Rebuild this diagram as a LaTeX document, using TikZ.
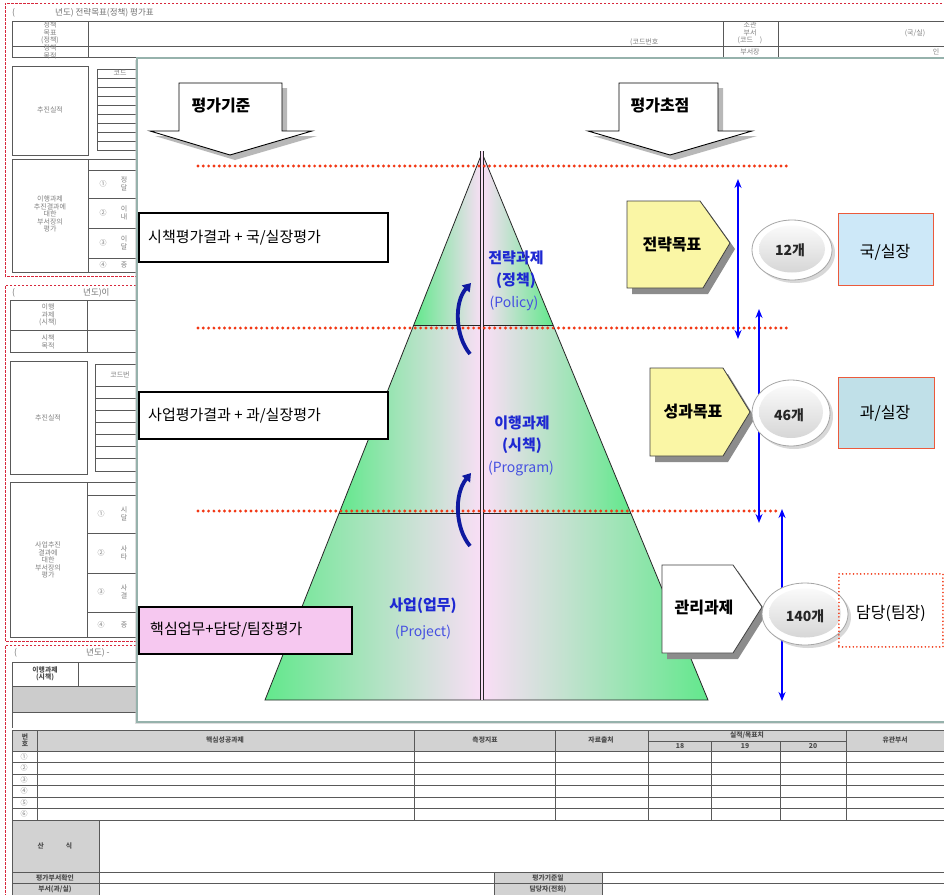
\documentclass[tikz,border=0pt]{standalone}
\usepackage{fontspec}
\setmainfont{Noto Sans CJK KR}
\usetikzlibrary{shapes.geometric,shadows,arrows.meta,calc}
\definecolor{pgreen}{RGB}{98,232,140}
\definecolor{ppink}{RGB}{250,222,246}
\definecolor{pyel}{RGB}{250,246,165}
\definecolor{dotred}{RGB}{242,55,20}
\definecolor{txtblue}{RGB}{30,40,210}
\definecolor{engblue}{RGB}{70,80,225}
\definecolor{lblue}{RGB}{205,232,248}
\definecolor{lteal}{RGB}{192,224,232}
\definecolor{boxred}{RGB}{235,90,60}
\definecolor{lpink}{RGB}{246,200,240}
\definecolor{panelb}{RGB}{150,178,172}
\definecolor{darkblue}{RGB}{15,25,160}
\definecolor{formred}{RGB}{215,40,60}
\begin{document}
\begin{tikzpicture}[x=1pt,y=-1pt,
  fl/.style={draw=black!65, line width=0.5pt},
  ft/.style={font=\fontsize{7}{7.6}\selectfont, text=black!50, align=center, inner sep=0pt},
  ftt/.style={font=\fontsize{8.5}{9}\selectfont, text=black!55, inner sep=0pt, anchor=west},
  fth/.style={font=\fontsize{6.8}{7.2}\selectfont\bfseries, text=black!70, align=center, inner sep=0pt},
  rdash/.style={draw=formred, line width=0.7pt, dash pattern=on 2.5pt off 1.5pt},
  rdot/.style={draw=dotred, line width=3.2pt, line cap=round, dash pattern=on 0pt off 5.3pt},
  lbox/.style={draw=black, line width=1.6pt, fill=white, anchor=north west, inner sep=0pt},
  ltext/.style={font=\fontsize{15}{17}\selectfont, anchor=west, inner sep=0pt},
  ptxt/.style={font=\fontsize{15}{17}\selectfont\bfseries, text=txtblue, inner sep=0pt},
  etxt/.style={font=\fontsize{14}{16}\selectfont\bfseries, text=black!85, inner sep=0pt},
  ktxt/.style={font=\fontsize{16}{18}\selectfont\bfseries, text=black, inner sep=0pt},
  pent/.style={draw=black!75, line width=0.8pt, drop shadow={shadow xshift=5pt, shadow yshift=-6pt, fill=black!45, opacity=1}},
  barrowstyle/.style={draw=blue, line width=2.4pt, {Stealth[length=9pt,width=7pt]}-{Stealth[length=9pt,width=7pt]}},
  curvarrow/.style={draw=darkblue, line width=3.8pt, -{Triangle[length=8pt,width=10pt]}},
  ellout/.style={ellipse, draw=gray!70, line width=0.8pt, fill=white, drop shadow={shadow xshift=3pt, shadow yshift=-3pt, fill=black!30}},
  ellin/.style={ellipse, top color=gray!4, bottom color=gray!32, inner sep=0pt}
]
\useasboundingbox[fill=white] (0,0) rectangle (944,894);

%================ background form 1
\draw[rdash] (946,3) -- (5,3) -- (5,276) -- (140,276);
\node[ftt] (f1a) at (12,13) {(};
\node[ftt] (f1b) at (55,13) {년도) 전략목표(정책) 평가표};
\draw[fl] (12,21) rectangle (946,57);
\draw[fl] (12,46) -- (946,46);
\draw[fl] (88,21) -- (88,57) (723,21) -- (723,57) (778,21) -- (778,57);
\node[ft] (f1c) at (50,33) {정책\\목표\\(정책)};
\node[ft] (f1d) at (50,52) {정책\\목적};
\node[ft,anchor=west] (f1e) at (630,42) {(코드번호};
\node[ft] (f1f) at (750,33) {소관\\부서\\(코드\quad)};
\node[ft] (f1g) at (915,33) {(국/실)};
\node[ft] (f1h) at (750,52) {부서장};
\node[ft] (f1i) at (936,52) {인};
\draw[fl] (12,66) rectangle (88,155);
\node[ft] (f1j) at (50,110) {추진실적};
\draw[fl] (97,69) rectangle (140,150);
\foreach \yy in {78,87,96,105,114,123,132,141} \draw[fl] (97,\yy) -- (140,\yy);
\node[ft] (f1k) at (120,73) {코드};
\draw[fl] (12,159) rectangle (88,272);
\node[ft] (f1l) at (50,214) {이행과제\\추진결과에\\대한\\부서장의\\평가};
\draw[fl] (88,159) rectangle (140,272);
\foreach \yy in {170,198,228,258} \draw[fl] (88,\yy) -- (140,\yy);
\node[ft] (f1m) at (103,184) {①};
\node[ft] (f1n) at (124,184) {정\\달};
\node[ft] (f1o) at (103,213) {②};
\node[ft] (f1p) at (124,213) {이\\내};
\node[ft] (f1q) at (103,243) {③};
\node[ft] (f1r) at (124,243) {이\\달};
\node[ft] (f1s) at (103,265) {④};
\node[ft] (f1t) at (124,265) {종};

%================ background form 2
\draw[rdash] (140,285) -- (5,285) -- (5,641) -- (140,641);
\node[ftt] (f2a) at (12,293) {(};
\node[ftt] (f2b) at (83,293) {년도)이};
\draw[fl] (10,300) rectangle (140,352);
\draw[fl] (10,330) -- (140,330) (87,300) -- (87,352);
\node[ft] (f2c) at (48,315) {이행\\과제\\(시책)};
\node[ft] (f2d) at (48,342) {시책\\목적};
\draw[fl] (10,361) rectangle (87,474);
\node[ft] (f2e) at (48,418) {추진실적};
\draw[fl] (95,364) rectangle (140,471);
\foreach \yy in {386,398,410,422,434,446,458} \draw[fl] (95,\yy) -- (140,\yy);
\node[ft] (f2f) at (120,375) {코드번};
\draw[fl] (10,482) rectangle (87,637);
\node[ft] (f2g) at (48,560) {사업추진\\결과에\\대한\\부서장의\\평가};
\draw[fl] (87,482) rectangle (140,637);
\foreach \yy in {495,533,573,612} \draw[fl] (87,\yy) -- (140,\yy);
\node[ft] (f2h) at (101,514) {①};
\node[ft] (f2i) at (124,514) {시\\달};
\node[ft] (f2j) at (101,553) {②};
\node[ft] (f2k) at (124,553) {사\\타};
\node[ft] (f2l) at (101,592) {③};
\node[ft] (f2m) at (124,592) {사\\결};
\node[ft] (f2n) at (101,625) {④};
\node[ft] (f2o) at (124,625) {종};

%================ background form 3
\draw[rdash] (140,645) -- (5,645) -- (5,896);
\node[ftt] (f3a) at (14,653) {(};
\node[ftt] (f3b) at (86,653) {년도) -};
\draw[fl] (12,662) rectangle (140,686);
\draw[fl] (78,662) -- (78,686);
\node[fth] (f3c) at (45,674) {이행과제\\(시책)};
\draw[fl, fill=gray!40] (12,686) rectangle (140,712);
\draw[fl] (12,712) -- (12,728);
% main table
\draw[fl, fill=gray!35] (12,730) rectangle (946,751);
\draw[fl] (12,751) rectangle (946,820);
\foreach \xx in {37,414,555,648,846} \draw[fl] (\xx,730) -- (\xx,820);
\foreach \xx in {711,780} \draw[fl] (\xx,741) -- (\xx,820);
\draw[fl] (648,741) -- (846,741);
\foreach \yy in {762.5,774,785.5,797,808.5} \draw[fl] (12,\yy) -- (946,\yy);
\node[fth] (h1) at (25,740) {번\\호};
\node[fth] (h2) at (225,740) {핵심성공과제};
\node[fth] (h3) at (485,740) {측정지표};
\node[fth] (h4) at (601,740) {자료출처};
\node[fth] (h5) at (747,735.5) {실적/목표치};
\node[fth] (h6) at (680,746.5) {18};
\node[fth] (h7) at (745,746.5) {19};
\node[fth] (h8) at (813,746.5) {20};
\node[fth] (h9) at (895,740) {유관부서};
\node[ft] (r1) at (24,756.8) {①};
\node[ft] (r2) at (24,768.3) {②};
\node[ft] (r3) at (24,779.8) {③};
\node[ft] (r4) at (24,791.3) {④};
\node[ft] (r5) at (24,802.8) {⑤};
\node[ft] (r6) at (24,814.3) {⑥};
\draw[fl, fill=gray!35] (12,820) rectangle (99,872);
\draw[fl] (99,820) rectangle (946,872);
\node[fth] (sik) at (55,846) {산\hspace{22pt}식};
\draw[fl] (12,872) rectangle (946,896);
\draw[fl] (12,883) -- (946,883);
\draw[fl, fill=gray!35] (12,872) rectangle (99,883);
\draw[fl, fill=gray!35] (12,883) rectangle (99,896);
\draw[fl, fill=gray!35] (494,872) rectangle (602,883);
\draw[fl, fill=gray!35] (494,883) rectangle (602,896);
\node[fth] (b1) at (55,877.5) {평가부서확인};
\node[fth] (b2) at (55,889) {부서(과/실)};
\node[fth] (b3) at (548,877.5) {평가기준일};
\node[fth] (b4) at (548,889) {담당자(전화)};

%================ overlay panel
\draw[draw=panelb, line width=2.5pt, fill=white, drop shadow={shadow xshift=-2pt, shadow yshift=-2pt, fill=black!25}] (137,58) rectangle (946,722);

% block arrows
\draw[fill=white, draw=black, line width=0.9pt, drop shadow={shadow xshift=5pt, shadow yshift=-5pt, fill=black!55}]
  (179,83) -- (282,83) -- (282,131) -- (312,131) -- (230,155) -- (150,131) -- (179,131) -- cycle;
\node[ktxt] (crit) at (221,106) {평가기준};
\draw[fill=white, draw=black, line width=0.9pt, drop shadow={shadow xshift=5pt, shadow yshift=-5pt, fill=black!55}]
  (619,83) -- (718,83) -- (718,131) -- (752,131) -- (670,155) -- (588,131) -- (619,131) -- cycle;
\node[ktxt] (focus) at (660,106) {평가초점};

% pyramid
\coordinate (A) at (482,153);
\coordinate (L1) at (413.8,325);
\coordinate (R1) at (553,325);
\coordinate (L2) at (339.2,513);
\coordinate (R2) at (630.7,513);
\coordinate (BL) at (265,700);
\coordinate (BR) at (708,700);
\begin{scope}
  \clip (A) -- (R1) -- (L1) -- cycle;
  \shade[left color=pgreen, middle color=pgreen!30!white, right color=ppink] (413.8,150) rectangle (482,326);
  \shade[left color=ppink, middle color=pgreen!30!white, right color=pgreen] (482,150) rectangle (553,326);
\end{scope}
\begin{scope}
  \clip (L1) -- (R1) -- (R2) -- (L2) -- cycle;
  \shade[left color=pgreen, middle color=pgreen!30!white, right color=ppink] (339,324) rectangle (482,514);
  \shade[left color=ppink, middle color=pgreen!30!white, right color=pgreen] (482,324) rectangle (631,514);
\end{scope}
\begin{scope}
  \clip (L2) -- (R2) -- (BR) -- (BL) -- cycle;
  \shade[left color=pgreen, middle color=pgreen!30!white, right color=ppink] (265,512) rectangle (482,701);
  \shade[left color=ppink, middle color=pgreen!30!white, right color=pgreen] (482,512) rectangle (708,701);
\end{scope}
\draw[black!85, line width=0.8pt] (A) -- (BR) -- (BL) -- cycle;
\draw[black!85, line width=0.8pt] (L1) -- (R1) (L2) -- (R2);
\draw[black!85, line width=0.8pt, double=ppink, double distance=1.6pt] (482,151) -- (482,700);

% red dotted lines
\draw[rdot] (198,166) -- (788,166);
\draw[rdot] (198,328) -- (788,328);
\draw[rdot] (198,511) -- (778,511);

% curved arrows
\draw[curvarrow] (470,354) .. controls (455,336) and (454,302) .. (471,283);
\draw[curvarrow] (470,546) .. controls (455,528) and (454,494) .. (471,473);

% pyramid texts
\node[ptxt] (t1a) at (516,258) {전략과제};
\node[ptxt] (t1b) at (516,281) {(정책)};
\node[font=\fontsize{14}{16}\selectfont, text=engblue, inner sep=0pt] (t1c) at (514,303) {(Policy)};
\node[ptxt] (t2a) at (522,423) {이행과제};
\node[ptxt] (t2b) at (522,446) {(시책)};
\node[font=\fontsize{14}{16}\selectfont, text=engblue, inner sep=0pt] (t2c) at (521,469) {(Program)};
\node[ptxt] (t3a) at (423,606) {사업(업무)};
\node[font=\fontsize{14}{16}\selectfont, text=engblue, inner sep=0pt] (t3b) at (423,632) {(Project)};

% left label boxes
\node[lbox, minimum width=249pt, minimum height=49pt] (lb1) at (138,212) {};
\node[ltext] (lt1) at (148,238) {시책평가결과 + 국/실장평가};
\node[lbox, minimum width=249pt, minimum height=47pt] (lb2) at (138,391) {};
\node[ltext] (lt2) at (148,416) {사업평가결과 + 과/실장평가};
\node[lbox, fill=lpink, minimum width=213pt, minimum height=47pt] (lb3) at (138,606) {};
\node[ltext] (lt3) at (150,630) {핵심업무+담당/팀장평가};

% blue range arrows
\draw[barrowstyle] (738,179) -- (738,339);
\draw[barrowstyle] (759,309) -- (759,523);
\draw[barrowstyle] (782,509) -- (782,701);

% pentagons
\draw[pent, fill=pyel] (627,201) -- (700,201) -- (730,243) -- (703,288) -- (627,288) -- cycle;
\node[ktxt] (p1) at (672,245) {전략목표};
\draw[pent, fill=pyel] (650,368) -- (723,368) -- (750,412) -- (723,456) -- (650,456) -- cycle;
\node[ktxt] (p2) at (693,412) {성과목표};
\draw[pent, fill=white] (662,565) -- (733,565) -- (762,607) -- (733,653) -- (662,653) -- cycle;
\node[ktxt] (p3) at (704,608) {관리과제};

% ellipses
\node[ellout, minimum width=80pt, minimum height=60pt] (e1) at (792,250) {};
\node[ellin, minimum width=66pt, minimum height=47pt] (e1i) at (792,249) {};
\node[etxt] (n1) at (790,250) {12개};
\node[ellout, minimum width=78pt, minimum height=66pt] (e2) at (791,413) {};
\node[ellin, minimum width=64pt, minimum height=52pt] (e2i) at (791,412) {};
\node[etxt] (n2) at (789,415) {46개};
\node[ellout, minimum width=86pt, minimum height=62pt] (e3) at (805,614) {};
\node[ellin, minimum width=72pt, minimum height=49pt] (e3i) at (805,613) {};
\node[etxt] (n3) at (805,616) {140개};

% right boxes
\node[draw=boxred, line width=1pt, fill=lblue, minimum width=95pt, minimum height=72pt, anchor=north west, inner sep=0pt] (o1) at (838,213) {};
\node[font=\fontsize{16}{18}\selectfont, inner sep=0pt] (o1t) at (885,252) {국/실장};
\node[draw=boxred, line width=1pt, fill=lteal, minimum width=96pt, minimum height=71pt, anchor=north west, inner sep=0pt] (o2) at (838,377) {};
\node[font=\fontsize{16}{18}\selectfont, inner sep=0pt] (o2t) at (885,413) {과/실장};
\node[draw=dotred, line width=1.8pt, line cap=round, dash pattern=on 0pt off 3.6pt, minimum width=104pt, minimum height=73pt, anchor=north west, inner sep=0pt] (o3) at (838,573) {};
\node[font=\fontsize{16}{18}\selectfont, inner sep=0pt] (o3t) at (891,613) {담당(팀장)};

\end{tikzpicture}
\end{document}
